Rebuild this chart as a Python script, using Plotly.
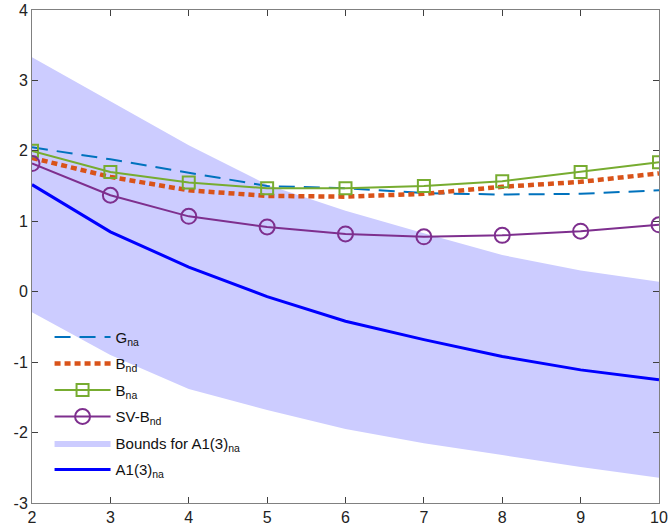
import plotly.graph_objects as go

x = [2, 3, 4, 5, 6, 7, 8, 9, 10]
g_na = [2.05, 1.88, 1.69, 1.50, 1.47, 1.40, 1.38, 1.39, 1.44]
b_nd = [1.90, 1.63, 1.44, 1.36, 1.35, 1.39, 1.49, 1.56, 1.68]
b_na = [2.00, 1.70, 1.55, 1.47, 1.47, 1.50, 1.57, 1.70, 1.84]
sv_b_nd = [1.82, 1.37, 1.07, 0.92, 0.82, 0.78, 0.80, 0.86, 0.95]
a1_upper = [3.33, 2.70, 2.08, 1.52, 1.15, 0.83, 0.52, 0.30, 0.14]
a1_lower = [-0.29, -0.90, -1.38, -1.68, -1.95, -2.15, -2.32, -2.49, -2.64]
a1_na = [1.52, 0.85, 0.35, -0.07, -0.42, -0.68, -0.92, -1.11, -1.25]
x_ticks = [2, 3, 4, 5, 6, 7, 8, 9, 10]
y_ticks = [-3, -2, -1, 0, 1, 2, 3, 4]
y_tick_text = ["-3", "-2", "-1", "0", "1", "2", "3", "4"]

fig = go.Figure()

fig.add_trace(go.Scatter(
    x=x + x[::-1], y=a1_upper + a1_lower[::-1],
    fill="toself", fillcolor="rgb(204,204,255)", line=dict(width=0),
    mode="lines", name="Bounds for A1(3)<sub>na</sub>", legendrank=5,
    legendgroup="e", hoverinfo="skip"))

fig.add_trace(go.Scatter(
    x=x, y=g_na, mode="lines", name="G<sub>na</sub>", legendrank=1,
    legendgroup="a",
    line=dict(color="#0072BD", width=2, dash="16px,9px")))

fig.add_trace(go.Scatter(
    x=x, y=b_nd, mode="lines", name="B<sub>nd</sub>", legendrank=2,
    legendgroup="b",
    line=dict(color="#D95319", width=4.5, dash="6px,4px")))

fig.add_trace(go.Scatter(
    x=x, y=b_na, mode="lines+markers", name="B<sub>na</sub>", legendrank=3,
    legendgroup="c",
    line=dict(color="#77AC30", width=2),
    marker=dict(symbol="square-open", size=12, color="#77AC30",
                line=dict(width=2, color="#77AC30"))))

fig.add_trace(go.Scatter(
    x=x, y=sv_b_nd, mode="lines+markers", name="SV-B<sub>nd</sub>", legendrank=4,
    legendgroup="d",
    line=dict(color="#7E2F8E", width=2),
    marker=dict(symbol="circle-open", size=15, color="#7E2F8E",
                line=dict(width=2, color="#7E2F8E"))))

fig.add_trace(go.Scatter(
    x=x, y=a1_na, mode="lines", name="A1(3)<sub>na</sub>", legendrank=6,
    legendgroup="f",
    line=dict(color="#0000FF", width=3)))

axis_common = dict(
    showgrid=False, zeroline=False, showline=True, mirror="ticks",
    linecolor="#808080", linewidth=1, ticks="inside", ticklen=6,
    tickcolor="#404040", automargin=False,
    tickfont=dict(family="Liberation Sans, Arial", size=16, color="#222"),
)

fig.update_xaxes(range=[2, 10], tickvals=x_ticks, **axis_common)
fig.update_yaxes(range=[-3, 4], tickvals=y_ticks, ticktext=y_tick_text, **axis_common)

fig.update_layout(
    width=669, height=527,
    margin=dict(l=32, r=10, t=10, b=24),
    plot_bgcolor="white", paper_bgcolor="white",
    font=dict(family="Liberation Sans, Arial", size=15, color="#111"),
    legend=dict(x=0.028, y=0.035, xanchor="left", yanchor="bottom",
                bgcolor="rgba(0,0,0,0)", itemwidth=56, tracegroupgap=4,
                traceorder="grouped", font=dict(size=15)),
    showlegend=True,
)

fig.write_html("out.html", config={"displayModeBar": False},
               post_script="document.body.style.margin='0';")
